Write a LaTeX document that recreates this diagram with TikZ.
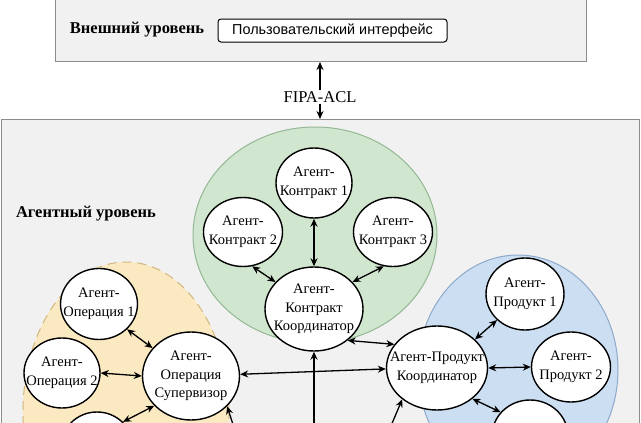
\documentclass[tikz,border=0pt]{standalone}
\usepackage{fontspec}
\setmainfont{Liberation Serif}
\newfontfamily\uisans{Liberation Sans}
\usetikzlibrary{shapes.geometric,arrows.meta}
\definecolor{panelfill}{HTML}{F1F1F1}
\definecolor{panelline}{HTML}{8C8C8C}
\definecolor{grfill}{HTML}{D0E6CF}
\definecolor{grline}{HTML}{93B893}
\definecolor{yefill}{HTML}{FBE9C2}
\definecolor{yeline}{HTML}{D2B77E}
\definecolor{blfill}{HTML}{CCDFF2}
\definecolor{blline}{HTML}{8EA9CB}
\tikzset{
  panel/.style={draw=panelline, fill=panelfill, line width=1pt, inner sep=0},
  agent/.style={ellipse, draw=black, fill=white, line width=1.4pt, inner sep=0},
  agtext/.style={inner sep=0, align=center, font=\fontsize{14.5}{18.5}\selectfont},
  grp/.style={ellipse, inner sep=0, line width=1pt},
  dbl/.style={{Stealth[length=8pt,width=7pt]}-{Stealth[length=8pt,width=7pt]}, line width=1.3pt},
  one/.style={-{Stealth[length=8pt,width=7pt]}, line width=1.3pt},
  lvl/.style={font=\fontsize{16.5}{19}\selectfont\bfseries}
}
\begin{document}
\begin{tikzpicture}[x=1pt,y=-1pt]
\useasboundingbox (0,0) rectangle (641,423);
\clip (0,0) rectangle (641,423);
% panels
\node[panel, minimum width=531pt, minimum height=68pt, anchor=north west] (ext) at (55,-7) {};
\node[panel, minimum width=638pt, minimum height=340pt, anchor=north west] (agl) at (1,119) {};
\node[lvl] (extlbl) at (137,30) {Внешний уровень};
\node[draw=black, fill=white, rounded corners=3pt, line width=1pt, minimum width=229pt, minimum height=23pt,
  inner sep=0, font=\uisans\fontsize{14.4}{16}\selectfont] (ui) at (332.5,30.5) {Пользовательский интерфейс};
\node[lvl] (agllbl) at (86,214) {Агентный уровень};
\node[font=\fontsize{16.5}{19}\selectfont, inner sep=1pt] (fipa) at (320,97) {FIPA-ACL};
\draw[one] (fipa.north) -- (ext.south -| fipa.north);
\draw[one] (fipa.south) -- (agl.north -| fipa.south);
% groups
\node[grp, fill=grfill, draw=grline, minimum width=244pt, minimum height=216pt] (ggreen) at (315,235) {};
\node[grp, fill=yefill, draw=yeline, dashed, dash pattern=on 9pt off 6pt, minimum width=206pt, minimum height=300pt] (gyellow) at (126,412) {};
\node[grp, fill=blfill, draw=blline, minimum width=200pt, minimum height=230pt] (gblue) at (518,370) {};
% contract agents
\node[agent, minimum width=76pt, minimum height=70pt] (k1) at (314,183) {};
\node[agent, minimum width=79pt, minimum height=69pt] (k2) at (243,232) {};
\node[agent, minimum width=79pt, minimum height=69pt] (k3) at (393,232) {};
\node[agent, minimum width=98pt, minimum height=84pt] (kc) at (314,309) {};
% operation agents
\node[agent, minimum width=77pt, minimum height=71pt] (o1) at (99,304) {};
\node[agent, minimum width=76pt, minimum height=70pt] (o2) at (62,373) {};
\node[agent, minimum width=97pt, minimum height=88pt] (os) at (191,376) {};
\node[agent, minimum width=72pt, minimum height=70pt] (o3) at (97,447) {};
% product agents
\node[agent, minimum width=78pt, minimum height=72pt] (p1) at (525,294) {};
\node[agent, minimum width=101pt, minimum height=84pt] (pc) at (437,368) {};
\node[agent, minimum width=79pt, minimum height=70pt] (p2) at (571,367) {};
\node[agent, minimum width=76pt, minimum height=72pt] (p3) at (530,436) {};
% texts
\node[agtext] (k1t) at (k1) {Агент-\\Контракт 1};
\node[agtext] (k2t) at (k2) {Агент-\\Контракт 2};
\node[agtext] (k3t) at (k3) {Агент-\\Контракт 3};
\node[agtext] (kct) at (kc) {Агент-\\Контракт\\Координатор};
\node[agtext] (o1t) at (o1) {Агент-\\Операция 1};
\node[agtext] (o2t) at (o2) {Агент-\\Операция 2};
\node[agtext] (ost) at (os) {Агент-\\Операция\\Супервизор};
\node[agtext] (p1t) at (p1) {Агент-\\Продукт 1};
\node[agtext] (pct) at (pc) {Агент-Продукт\\Координатор};
\node[agtext] (p2t) at (p2) {Агент-\\Продукт 2};
% free ends below the visible area
\coordinate (b1) at (238,440);
\coordinate (b2) at (385,440);
\coordinate (b3) at (314,440);
% connectors
\draw[dbl] (k1.south) -- (kc.north);
\draw[dbl] (k2.-75) -- (kc.145);
\draw[dbl] (k3.-105) -- (kc.35);
\draw[dbl] (o1.-42) -- (os.144);
\draw[dbl] (o2.0) -- (os.180);
\draw[dbl] (o3.44) -- (os.-141);
\draw[dbl] (pc.37) -- (p1.-137);
\draw[dbl] (pc.0) -- (p2.180);
\draw[dbl] (pc.-41) -- (p3.141);
\draw[dbl] (kc.-43) -- (pc.151);
\draw[dbl] (os.2) -- (pc.181);
\draw[one] (b1) -- (os.-40);
\draw[one] (b2) -- (pc.-138);
\draw[one] (b3) -- (kc.south);
\end{tikzpicture}
\end{document}
